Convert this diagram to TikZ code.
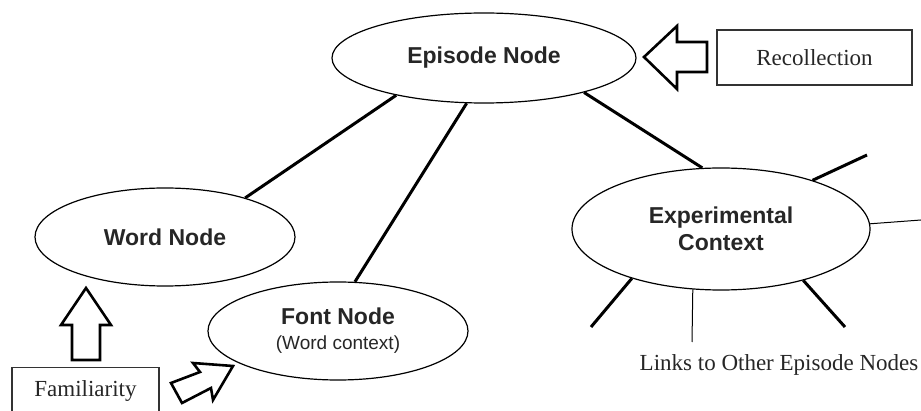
\documentclass[tikz,border=0pt]{standalone}
\usepackage{fontspec}
\setmainfont{Liberation Serif}
\setsansfont{Liberation Sans}
\usetikzlibrary{shapes.geometric}

\begin{document}
\begin{tikzpicture}[x=0.5pt,y=-0.5pt,
    memnode/.style={draw,ellipse,line width=0.6pt,inner sep=0pt,align=center,
        font=\sffamily\bfseries\fontsize{11.5}{13.5}\selectfont,text=black!85},
    cuebox/.style={draw=black!80,line width=0.7pt,inner sep=0pt,
        font=\fontsize{11.5}{13}\selectfont,text=black!85},
    link/.style={line width=1.5pt},
    thinlink/.style={line width=0.5pt},
    blockarrow/.style={draw,line width=1.3pt,fill=white,line join=miter}]
    \useasboundingbox (0,0) rectangle (921,411);
    % memory nodes
    \node[memnode,minimum width=152pt,minimum height=45pt] (ep) at (484,58) {Episode Node};
    \node[memnode,minimum width=130pt,minimum height=49pt] (wn) at (165,237) {Word Node};
    \node[memnode,minimum width=130pt,minimum height=49pt] (fn) at (338,331)
        {Font Node\\[-1pt]{\mdseries\fontsize{9.5}{11}\selectfont (Word context)}};
    \node[memnode,minimum width=149pt,minimum height=61pt] (ex) at (721,229) {Experimental\\Context};
    % cues
    \node[cuebox,minimum width=97.5pt,minimum height=27.5pt] (rc) at (814.5,57.5) {Recollection};
    \node[cuebox,minimum width=73.5pt,minimum height=23pt,anchor=north] (fm) at (85.5,367) {Familiarity};
    \node[font=\fontsize{11.5}{13}\selectfont,text=black!85] (lk) at (779,365) {Links to Other Episode Nodes};
    % links
    \draw[link] (ep.203) -- (wn.26);
    \draw[link] (ep.249) -- (fn.71);
    \draw[link] (ep.341) -- (ex.107);
    % links to other episodes
    \coordinate (o1) at (867,155);
    \coordinate (o2) at (921,220);
    \coordinate (o3) at (591,327);
    \coordinate (o4) at (692,342);
    \coordinate (o5) at (845,327);
    \draw[link] (ex.28) -- (o1);
    \draw[thinlink] (ex.2) -- (o2);
    \draw[link] (ex.209) -- (o3);
    \draw[thinlink] (ex.245) -- (o4);
    \draw[link] (ex.328) -- (o5);
    % block arrows
    \draw[blockarrow] (644,57) -- (677,26) -- (677,42) -- (707,42) -- (707,72) -- (677,72) -- (677,89) -- cycle;
    \draw[blockarrow] (86,288) -- (111,325) -- (100,325) -- (100,360) -- (72,360) -- (72,325) -- (61,325) -- cycle;
    \draw[blockarrow] (233,366) -- (213,400) -- (211,388) -- (182,403) -- (171,383) -- (200,372) -- (193,363) -- cycle;
\end{tikzpicture}
\end{document}
